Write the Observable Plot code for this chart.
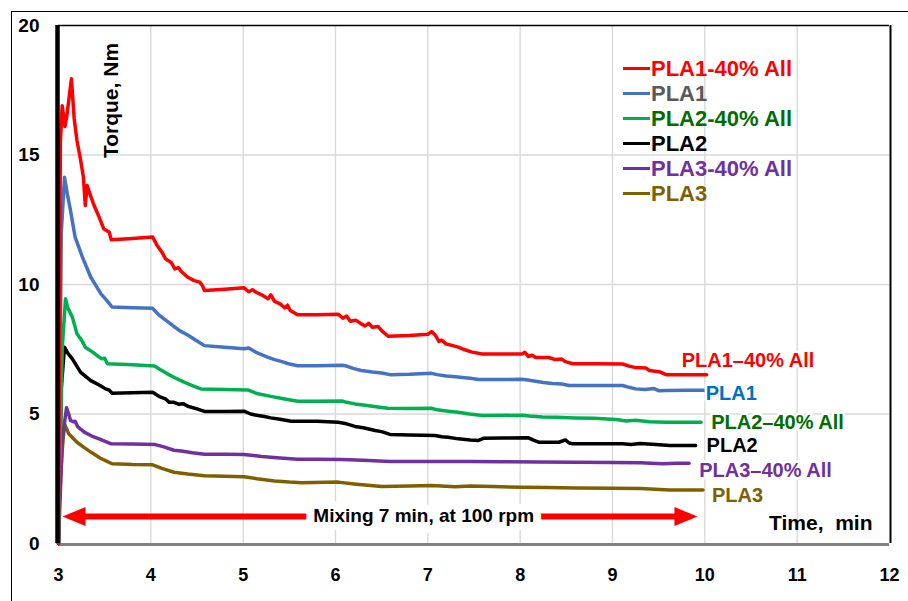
<!DOCTYPE html>
<html>
<head>
<meta charset="utf-8">
<script src="https://cdn.jsdelivr.net/npm/d3@7"></script>
<script src="https://cdn.jsdelivr.net/npm/@observablehq/plot@0.6"></script>
<style>
  html, body { margin: 0; padding: 0; background: #fff; }
  #wrap { position: relative; width: 908px; height: 601px; overflow: hidden; font-family: "Liberation Sans", Arial, sans-serif; }
  #outer { position: absolute; left: 11px; top: 11px; width: 910px; height: 600px; border-left: 1.5px solid #000; border-top: 1.5px solid #000; }
  #legend { position: absolute; left: 623px; top: 56px; font-weight: bold; font-size: 22px; line-height: 25px; }
  #legend .row { display: flex; align-items: center; height: 25px; white-space: nowrap; }
  #legend .sw { width: 27px; height: 3px; margin-right: 1px; }
  svg { position: absolute; left: 0; top: 0; }
</style>
</head>
<body>
<div id="wrap"><div id="outer"></div><div id="chart"></div><div id="legend"></div></div>
<script>
// ---------------- data ----------------
const xTicks = [3, 4, 5, 6, 7, 8, 9, 10, 11, 12];
const yTicks = [0, 5, 10, 15, 20];
const seriesNames = ["PLA1-40% All", "PLA1", "PLA2-40% All", "PLA2", "PLA3-40% All", "PLA3"];
const endLabels = ["PLA1\u201340% All", "PLA1", "PLA2\u201340% All", "PLA2", "PLA3\u201340% All", "PLA3"];

const pla1_40_t = [3.00,3.02,3.04,3.07,3.09,3.14,3.17,3.20,3.24,3.27,3.29,3.31,3.34,3.38,3.44,3.49,3.55,3.57,3.80,4.02,4.07,4.12,4.16,4.22,4.26,4.30,4.33,4.40,4.47,4.53,4.56,4.58,4.80,5.01,5.06,5.10,5.14,5.20,5.27,5.30,5.34,5.40,5.45,5.48,5.51,5.59,5.80,6.03,6.08,6.12,6.16,6.22,6.28,6.32,6.36,6.40,6.46,6.50,6.57,6.80,7.00,7.04,7.08,7.12,7.15,7.20,7.26,7.33,7.40,7.48,7.59,7.80,8.02,8.05,8.09,8.13,8.17,8.31,8.38,8.45,8.49,8.57,8.85,9.11,9.18,9.24,9.36,9.40,9.46,9.52,9.58,9.80,10.02];
const pla1_40_v = [0,15.5,16.9,16.1,16.5,17.94,16.4,15.56,14.79,14.14,13.05,13.82,13.5,13.1,12.6,12.15,12.02,11.73,11.78,11.83,11.50,11.25,10.99,10.85,10.60,10.65,10.50,10.28,10.15,10.09,9.95,9.77,9.82,9.87,9.72,9.80,9.70,9.60,9.45,9.60,9.35,9.25,9.10,9.20,9.00,8.83,8.83,8.85,8.70,8.78,8.58,8.62,8.48,8.40,8.50,8.35,8.38,8.22,8.00,8.03,8.08,8.18,8.05,7.80,7.85,7.70,7.65,7.58,7.48,7.39,7.32,7.32,7.32,7.38,7.22,7.27,7.18,7.18,7.10,7.12,7.02,6.94,6.94,6.93,6.85,6.80,6.78,6.68,6.65,6.62,6.52,6.52,6.52];

const pla1_t = [3.00,3.03,3.065,3.10,3.13,3.18,3.26,3.35,3.46,3.52,3.58,3.80,4.02,4.08,4.15,4.25,4.32,4.40,4.50,4.58,4.80,5.01,5.06,5.14,5.27,5.34,5.42,5.49,5.59,5.80,6.07,6.12,6.20,6.28,6.40,6.50,6.59,6.80,7.04,7.10,7.20,7.30,7.40,7.46,7.55,7.80,8.02,8.10,8.25,8.35,8.45,8.53,8.80,9.11,9.18,9.25,9.35,9.45,9.50,9.58,9.80,10.02];
const pla1_v = [0,12.0,14.14,13.40,12.86,11.83,11.05,10.28,9.64,9.40,9.13,9.10,9.08,8.85,8.65,8.38,8.20,8.05,7.82,7.64,7.58,7.52,7.55,7.38,7.19,7.10,7.02,6.94,6.86,6.86,6.88,6.85,6.75,6.68,6.62,6.58,6.52,6.53,6.57,6.52,6.47,6.44,6.40,6.38,6.33,6.33,6.34,6.30,6.22,6.18,6.16,6.10,6.10,6.10,6.03,5.97,5.95,5.98,5.90,5.91,5.92,5.92];

const pla2_40_t = [3.00,3.04,3.076,3.10,3.15,3.20,3.25,3.29,3.37,3.42,3.47,3.50,3.53,3.80,4.04,4.10,4.18,4.26,4.36,4.45,4.54,4.80,5.05,5.16,5.30,5.45,5.59,5.80,6.07,6.12,6.21,6.30,6.40,6.50,6.57,6.80,7.04,7.10,7.20,7.33,7.45,7.59,8.02,8.10,8.24,8.40,8.60,8.80,9.04,9.15,9.25,9.40,9.58,9.80,9.96];
const pla2_40_v = [0,7.5,9.45,9.10,8.74,8.10,7.85,7.58,7.39,7.25,7.13,7.15,6.94,6.90,6.85,6.72,6.55,6.40,6.23,6.10,5.97,5.95,5.93,5.78,5.68,5.58,5.49,5.49,5.50,5.45,5.39,5.35,5.30,5.25,5.22,5.21,5.22,5.16,5.12,5.07,5.00,4.94,4.95,4.92,4.88,4.87,4.85,4.84,4.79,4.73,4.76,4.70,4.68,4.68,4.68];

const pla2_t = [3.00,3.03,3.065,3.10,3.15,3.24,3.35,3.45,3.51,3.55,3.58,3.80,4.02,4.10,4.16,4.20,4.25,4.30,4.35,4.40,4.50,4.58,4.80,5.01,5.08,5.16,5.23,5.30,5.40,5.52,5.80,6.03,6.12,6.21,6.30,6.43,6.50,6.59,6.80,7.08,7.15,7.22,7.33,7.46,7.55,7.60,7.80,8.09,8.15,8.20,8.42,8.49,8.53,8.57,9.11,9.20,9.30,9.47,9.62,9.90];
const pla2_v = [0,6.0,7.58,7.35,7.13,6.61,6.29,6.10,5.97,5.92,5.80,5.82,5.84,5.66,5.58,5.45,5.45,5.38,5.40,5.30,5.20,5.10,5.10,5.11,5.00,4.94,4.90,4.85,4.80,4.72,4.72,4.68,4.62,4.52,4.47,4.36,4.32,4.21,4.19,4.17,4.12,4.10,4.04,4.00,3.98,4.06,4.07,4.08,3.98,3.91,3.91,4.00,3.88,3.85,3.85,3.82,3.86,3.82,3.78,3.78];

const pla3_40_t = [3.00,3.04,3.087,3.11,3.13,3.16,3.18,3.21,3.28,3.36,3.44,3.50,3.57,3.80,4.05,4.15,4.25,4.33,4.45,4.58,4.80,5.01,5.20,5.40,5.59,5.80,6.07,6.30,6.59,7.00,7.46,7.80,8.20,8.60,9.00,9.30,9.54,9.70,9.83];
const pla3_40_v = [0,4.0,5.24,5.00,4.75,4.70,4.72,4.50,4.30,4.15,4.04,3.95,3.85,3.84,3.82,3.72,3.60,3.57,3.50,3.45,3.45,3.44,3.36,3.30,3.25,3.25,3.24,3.21,3.17,3.17,3.17,3.16,3.15,3.14,3.13,3.12,3.08,3.10,3.10];

const pla3_t = [3.00,3.01,3.04,3.065,3.11,3.20,3.28,3.35,3.45,3.52,3.58,3.80,4.02,4.12,4.25,4.40,4.58,4.80,5.01,5.15,5.34,5.50,5.63,6.03,6.20,6.35,6.50,6.80,7.04,7.30,7.46,7.70,8.02,8.30,8.60,9.00,9.30,9.62,9.98];
const pla3_v = [0,1.66,3.6,4.62,4.24,3.91,3.70,3.53,3.30,3.18,3.08,3.05,3.04,2.90,2.75,2.68,2.62,2.60,2.58,2.50,2.41,2.37,2.35,2.37,2.30,2.25,2.20,2.22,2.24,2.19,2.22,2.20,2.17,2.16,2.14,2.13,2.12,2.07,2.07];

const arrowTips = [3.043, 9.92];
const arrowLevel = 1.04;
const arrowText = "Mixing 7 min, at 100 rpm";
const arrowTextX = 6.955;
const yLabel = "Torque, Nm";
const xLabel = "Time,\u00a0 min";

// ---------------- styles ----------------
const lineColors = ["#ff0000", "#4472c4", "#00b050", "#000000", "#7030a0", "#7f6000"];
const legendTextColors = ["#ff0000", "#595959", "#006e00", "#000000", "#7030a0", "#7f6000"];
const endLabelColors = ["#ff0000", "#0070c0", "#006e00", "#000000", "#7030a0", "#7f6000"];
const endOffsets = [[-25, -14], [-1, 3], [10, 0], [11, 0], [10, 7], [9, 6]];

const seriesData = [
  [pla1_40_t, pla1_40_v], [pla1_t, pla1_v], [pla2_40_t, pla2_40_v],
  [pla2_t, pla2_v], [pla3_40_t, pla3_40_v], [pla3_t, pla3_v]
];
const tables = seriesData.map(([t, v], i) => t.map((tt, j) => ({series: seriesNames[i], t: tt, v: v[j]})));

const font = "Liberation Sans, Arial, sans-serif";
const arrowHead = {
  draw(c) { c.moveTo(12, 0); c.lineTo(-11, -9.5); c.lineTo(-11, 9.5); c.closePath(); }
};

const drawOrder = [5, 4, 3, 2, 1, 0];

const chart = Plot.plot({
  width: 908,
  height: 601,
  marginLeft: 58,
  marginRight: 19,
  marginTop: 25,
  marginBottom: 58,
  style: {fontFamily: font, background: "transparent", overflow: "visible"},
  x: {domain: [3, 12]},
  y: {domain: [0, 20]},
  marks: [
    Plot.gridX(xTicks.filter(d => d > 3 && d < 12), {stroke: "#d9d9d9", strokeOpacity: 1, strokeWidth: 1.4}),
    Plot.gridY(yTicks.filter(d => d > 0 && d < 20), {stroke: "#d9d9d9", strokeOpacity: 1, strokeWidth: 1.4}),
    Plot.axisX({ticks: xTicks, tickSize: 0, tickPadding: 25, fontSize: 18, fontWeight: "bold", fill: "#000", label: null, tickFormat: d => d}),
    Plot.axisY({ticks: yTicks, tickSize: 0, tickPadding: 19, fontSize: 19, fontWeight: "bold", fill: "#000", label: null, tickFormat: d => d}),
    Plot.ruleY([20], {stroke: "#000", strokeWidth: 1.5}),
    Plot.ruleX([12], {stroke: "#000", strokeWidth: 2, dx: 1}),
    Plot.ruleY([0], {stroke: "#808080", strokeWidth: 3, dy: 1}),
    // arrow annotation
    Plot.ruleY([arrowLevel], {x1: arrowTips[0], x2: arrowTips[1], stroke: "#ff0000", strokeWidth: 6, insetLeft: 15, insetRight: 15}),
    Plot.dot([arrowTips[0]], {x: d => d, y: arrowLevel, symbol: arrowHead, fill: "#ff0000", rotate: 180, dx: 12, r: 5}),
    Plot.dot([arrowTips[1]], {x: d => d, y: arrowLevel, symbol: arrowHead, fill: "#ff0000", rotate: 0, dx: -12, r: 5}),
    Plot.text([arrowText], {x: arrowTextX, y: arrowLevel, text: d => d, fontSize: 19, fontWeight: "bold", fill: "#000", stroke: "#fff", strokeWidth: 16, strokeLinejoin: "round", dy: -1}),
    // series lines
    ...drawOrder.map(i => Plot.line(tables[i], {x: "t", y: "v", stroke: lineColors[i], strokeWidth: 3.5, strokeLinejoin: "round", strokeLinecap: "round"})),
    // end labels
    ...drawOrder.map(i => Plot.text([tables[i][tables[i].length - 1]], {
      x: "t", y: "v", text: () => endLabels[i], textAnchor: "start", lineAnchor: "middle",
      dx: endOffsets[i][0], dy: endOffsets[i][1], fontSize: 20, fontWeight: "bold",
      fill: endLabelColors[i], stroke: "#fff", strokeWidth: 5, strokeLinejoin: "round"
    })),
    Plot.ruleX([3], {stroke: "#000", strokeWidth: 4.5, dx: -1}),
    Plot.text([yLabel], {frameAnchor: "top-left", text: d => d, rotate: -90, dx: 53, dy: 75, fontSize: 21, fontWeight: "bold", fill: "#000", lineAnchor: "middle", textAnchor: "middle"}),
    Plot.text([xLabel], {frameAnchor: "bottom-right", text: d => d, dx: -17, dy: -20, fontSize: 21, fontWeight: "bold", fill: "#000", lineAnchor: "middle", textAnchor: "end"})
  ]
});
document.getElementById("chart").appendChild(chart);

// legend (inside plot area, top right)
const legend = document.getElementById("legend");
seriesNames.forEach((name, i) => {
  const row = document.createElement("div");
  row.className = "row";
  const sw = document.createElement("span");
  sw.className = "sw";
  sw.style.background = lineColors[i];
  const tx = document.createElement("span");
  tx.textContent = name;
  tx.style.color = legendTextColors[i];
  row.appendChild(sw);
  row.appendChild(tx);
  legend.appendChild(row);
});
</script>
</body>
</html>
